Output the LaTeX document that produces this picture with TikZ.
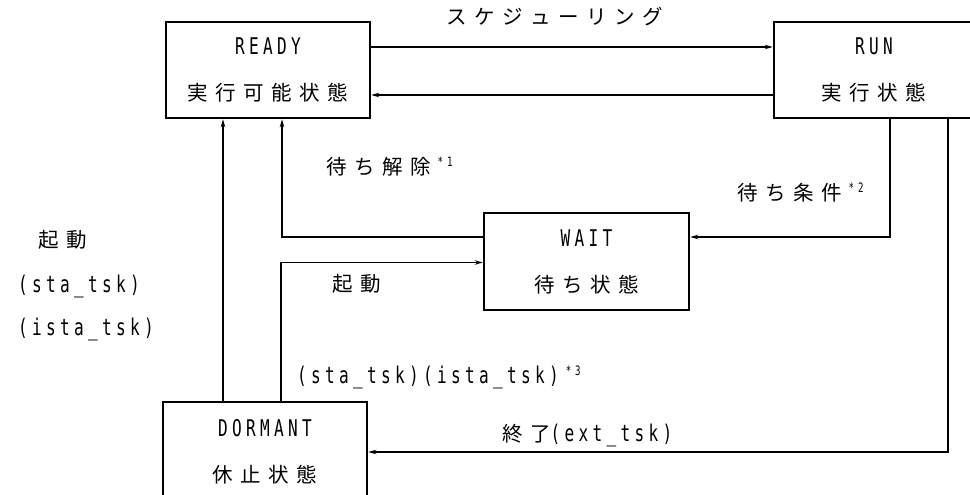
\documentclass[tikz,border=0pt]{standalone}
\usepackage{fontspec}
\usetikzlibrary{arrows.meta,calc}
\newfontfamily\latf[FakeStretch=0.70]{DejaVu Sans Mono}
\newfontfamily\jpf{Noto Sans CJK JP}
\newlength\spcamt
\makeatletter
\newcommand\tr[1]{\def\tr@first{1}\@tfor\tr@c:=#1\do{\ifx\tr@first\@empty\hspace{\spcamt}\else\def\tr@first{}\fi\tr@c}}
\makeatother
\newcommand\LT[1]{{\latf\fontsize{23}{25}\selectfont\setlength\spcamt{4.3pt}\tr{#1}}}
\newcommand\JP[1]{{\jpf\fontsize{20.5}{25}\selectfont\setlength\spcamt{7.5pt}\tr{#1}}}
\newcommand\SUP[1]{\hspace{7pt}\raisebox{8pt}{\latf\fontsize{13}{14}\selectfont\setlength\spcamt{4pt}\tr{#1}}}
\begin{document}
\begin{tikzpicture}[x=1pt,y=-1pt,
  box/.style={draw,line width=2.6pt,inner sep=0pt,align=center,font=\fontsize{20}{46}\selectfont},
  conn/.style={line width=1.2pt,-{Stealth[length=8pt,width=4.5pt]}},
  lbl/.style={inner sep=0pt}]
\useasboundingbox (0,0) rectangle (970,495);
\fill[white] (0,0) rectangle (970,495);
\clip (0,0) rectangle (970,495);
% states
\node[box,minimum width=204pt,minimum height=96pt] (ready) at (268,70) {\LT{READY}\\\JP{実行可能状態}};
\node[box,minimum width=200pt,minimum height=96pt] (run) at (874,70) {\LT{RUN}\\\JP{実行状態}};
\node[box,minimum width=205pt,minimum height=97pt] (wait) at (586.5,261.5) {\LT{WAIT}\\\JP{待ち状態}};
\node[box,minimum width=204pt,minimum height=100pt] (dormant) at (265,452) {\LT{DORMANT}\\\JP{休止状態}};
% helper x positions
\coordinate (xa) at (890,0);
\coordinate (xb) at (282,0);
\coordinate (xc) at (223,0);
\coordinate (xd) at (281,0);
\coordinate (xe) at (948,0);
% connectors
\draw[conn] ([yshift=23pt]ready.east) -- ([yshift=23pt]run.west);
\draw[conn] ([yshift=-25pt]run.west) -- ([yshift=-25pt]ready.east);
\draw[conn] (run.south -| xa) |- ([yshift=24.5pt]wait.east);
\draw[conn] ([yshift=24.5pt]wait.west) -| (ready.south -| xb);
\draw[conn] (dormant.north -| xc) -- (ready.south -| xc);
\draw[conn] (dormant.north -| xd) |- ([yshift=-1pt]wait.west);
\draw[conn] (run.south -| xe) |- (dormant.east);
% labels
\node[lbl] (sched) at (555,17) {\JP{スケジューリング}};
\node[lbl,anchor=west] (rel) at (326,167) {\JP{待ち解除}\SUP{*1}};
\node[lbl,anchor=west] (cond) at (737,192) {\JP{待ち条件}\SUP{*2}};
\node[lbl] (start1) at (63,240) {\JP{起動}};
\node[lbl,anchor=west] (sta1) at (18,286) {\LT{(sta\_tsk)}};
\node[lbl,anchor=west] (ista1) at (18,329) {\LT{(ista\_tsk)}};
\node[lbl] (start2) at (357,284) {\JP{起動}};
\node[lbl,anchor=west] (sta2) at (297,377) {\LT{(sta\_tsk)(ista\_tsk)}\SUP{*3}};
\node[lbl,anchor=west] (ext) at (502,435) {\JP{終了}\LT{(ext\_tsk)}};
\end{tikzpicture}
\end{document}
